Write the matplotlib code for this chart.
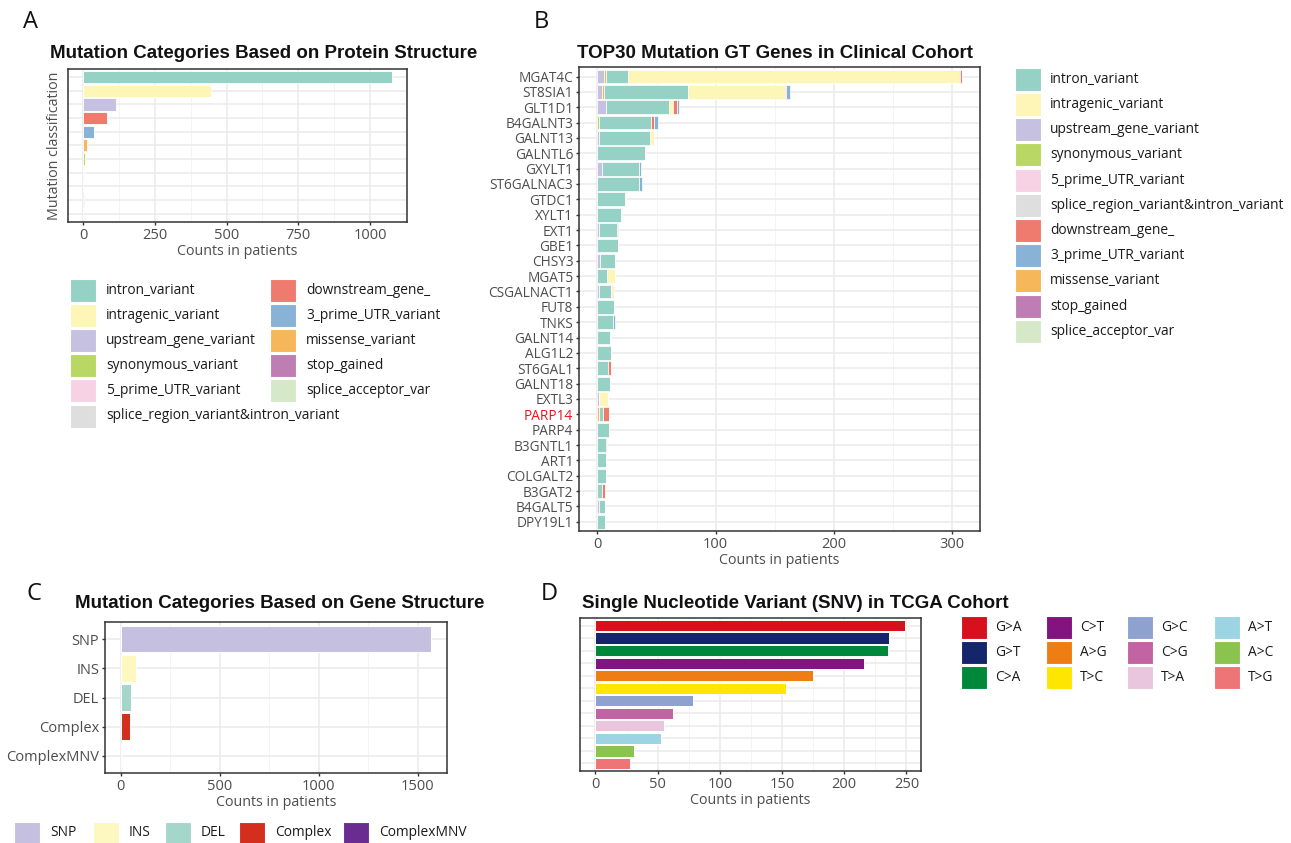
import matplotlib
matplotlib.use("Agg")
import matplotlib.pyplot as plt
from matplotlib.patches import Rectangle
from matplotlib.ticker import MultipleLocator
import numpy as np

W, H = 1291, 843
plt.rcParams['font.family'] = ['Open Sans', 'DejaVu Sans']

# ---------------- data ----------------
# Panel A
a_categories = ["intron_variant", "intragenic_variant", "upstream_gene_variant",
                "downstream_gene_", "3_prime_UTR_variant", "missense_variant",
                "synonymous_variant", "5_prime_UTR_variant",
                "splice_region_variant&intron_variant", "stop_gained",
                "splice_acceptor_var"]
a_counts = [1075, 444, 113, 84, 38, 12, 7, 2, 1, 3, 1]

# legend order (shared by A and B)
legend_labels = ["intron_variant", "intragenic_variant", "upstream_gene_variant",
                 "synonymous_variant", "5_prime_UTR_variant",
                 "splice_region_variant&intron_variant", "downstream_gene_",
                 "3_prime_UTR_variant", "missense_variant", "stop_gained",
                 "splice_acceptor_var"]
legend_colors = ["#96D1C6", "#FDF6B6", "#C6C1E0", "#B9D863", "#F7D2E5",
                 "#DEDEDE", "#EE7B6E", "#88B2D6", "#F6B75B", "#BF7EB3", "#D5E9C9"]

# Panel B
genes = ["MGAT4C", "ST8SIA1", "GLT1D1", "B4GALNT3", "GALNT13", "GALNTL6", "GXYLT1",
         "ST6GALNAC3", "GTDC1", "XYLT1", "EXT1", "GBE1", "CHSY3", "MGAT5",
         "CSGALNACT1", "FUT8", "TNKS", "GALNT14", "ALG1L2", "ST6GAL1", "GALNT18",
         "EXTL3", "PARP14", "PARP4", "B3GNTL1", "ART1", "COLGALT2", "B3GAT2",
         "B4GALT5", "DPY19L1"]
b_upstream   = [5.4, 4, 7, 0, 1.5, 0, 4, 0, 0, 0, 1.4, 0, 2.5, 0, 1.4, 0, 0, 0, 0, 0,
                0, 1.4, 0, 0, 0, 0, 0, 0, 1.4, 0]
b_synonymous = [0, 0, 0, 1.5, 0, 0, 0, 0, 0, 0, 0, 0, 0, 0, 0, 0, 0, 0, 0, 0,
                0, 0, 0, 0, 0, 0, 0, 0, 0, 0]
b_missense   = [1.5, 1.5, 0, 0, 0, 0, 0, 0, 0, 0, 0, 0, 0, 0, 0, 0, 0, 0, 0, 0,
                0, 0, 1.6, 0, 0, 0, 0, 0, 0, 0]
b_intron     = [19, 71, 54, 43.5, 43, 40, 31, 35.5, 23, 20, 15, 17.2, 12.7, 8.2, 10.4,
                14.4, 13.5, 11, 11.3, 9.3, 10.4, 0, 3, 9.6, 7.3, 7.3, 7.3, 4.2, 5, 6.5]
b_intragenic = [281, 82, 3, 0.5, 3.5, 0.6, 0, 0, 1, 0, 0, 0, 0, 7, 1.1, 0, 0, 0.7, 0, 0,
                0, 7.9, 0, 0, 0, 0, 0, 0, 0, 0]
b_downstream = [2, 1.5, 3, 2.5, 0, 0, 0, 0, 0, 0, 0, 0, 0, 0, 1.4, 0, 0, 0, 0, 2,
                0, 0, 5, 0, 1.1, 0, 0, 2.2, 0, 0]
b_utr3       = [0, 3, 2, 3, 0, 0, 2, 2, 0, 0, 1, 0, 0, 0, 0, 0, 1, 0, 0, 0,
                0, 0, 0, 0, 0, 0, 0, 0, 0, 0]
highlight_gene = "PARP14"

# Panel C
c_categories = ["SNP", "INS", "DEL", "Complex", "ComplexMNV"]
c_counts = [1570, 76, 55, 47, 5]
c_colors = ["#C5C0DF", "#FDF7C0", "#A5D6CA", "#D42E1F", "#6A2C91"]

# Panel D
d_categories = ["G>A", "G>T", "C>A", "C>T", "A>G", "T>C", "G>C", "C>G",
                "T>A", "A>T", "A>C", "T>G"]
d_counts = [249, 236, 235, 216, 175, 153, 78.7, 62, 55, 52.7, 30.8, 27.8]
d_colors = ["#D7101E", "#15256B", "#00883A", "#83137F", "#EE7E13", "#FFE600",
            "#8FA1CF", "#C264A3", "#E9C5DE", "#9CD4E4", "#8BC34F", "#EE7575"]

# ---------------- helpers ----------------
fig = plt.figure(figsize=(W / 100, H / 100), dpi=100)
fig.patch.set_facecolor("white")

def axes_px(x0, y0, x1, y1):
    return fig.add_axes([x0 / W, 1 - y1 / H, (x1 - x0) / W, (y1 - y0) / H])

def ftext(x, y, s, **kw):
    fig.text(x / W, 1 - y / H, s, **kw)

def style(ax, major, minor):
    ax.set_facecolor("white")
    for sp in ax.spines.values():
        sp.set_color("#333333")
        sp.set_linewidth(1.1)
    ax.xaxis.set_major_locator(MultipleLocator(major))
    ax.xaxis.set_minor_locator(MultipleLocator(minor))
    ax.grid(True, which="major", color="#EBEBEB", lw=1.1, zorder=0)
    ax.grid(True, which="minor", axis="x", color="#F3F3F3", lw=0.6, zorder=0)
    ax.set_axisbelow(True)
    ax.tick_params(axis="both", which="major", colors="#333333", labelcolor="#4D4D4D",
                   labelsize=10.5, length=2.5, width=1, pad=1.8)
    ax.tick_params(axis="x", which="minor", length=0)

def legend_block(labels, colors, x0, y0, col_dx, row_dy, nrows, bw, bh, tdx, fs=9.9):
    for i, (lab, col) in enumerate(zip(labels, colors)):
        c, r = divmod(i, nrows)
        x = x0 + c * col_dx
        y = y0 + r * row_dy
        fig.add_artist(Rectangle((x / W, 1 - (y + bh / 2) / H), bw / W, bh / H,
                                 transform=fig.transFigure, facecolor=col,
                                 edgecolor="white", lw=0.8))
        ftext(x + tdx, y, lab, fontsize=fs, va="center", ha="left", color="#1A1A1A")

title_kw = dict(fontsize=13.5, fontweight="bold", family=["Liberation Sans", "DejaVu Sans"],
                ha="center", va="center", color="#111111")
lab_kw = dict(fontsize=10.3, color="#4D4D4D")

# ---------------- Panel A ----------------
axA = axes_px(67.7, 69, 407.3, 221.7)
na = len(a_categories)
ya = np.arange(na)[::-1] + 1
a_cols = [legend_colors[legend_labels.index(c)] for c in a_categories]
axA.barh(ya, a_counts, height=0.9, color=a_cols, edgecolor="white", lw=0.6, zorder=3)
axA.set_ylim(0.4, na + 0.6)
axA.set_xlim(-54, 1130)
style(axA, 250, 125)
axA.set_yticks(ya)
axA.set_yticklabels([])
axA.tick_params(axis="y", length=0)
axA.set_ylabel("Mutation classification", labelpad=2, **lab_kw)
axA.set_xlabel("Counts in patients", labelpad=1, **lab_kw)
ftext(264, 53, "Mutation Categories Based on Protein Structure", **title_kw)
ftext(23, 22, "A", fontsize=17, ha="left", va="center", color="#111111")
legend_block(legend_labels, legend_colors, 70, 290, 200, 25.2, 6, 26, 23, 36)

# ---------------- Panel B ----------------
axB = axes_px(579.3, 67.3, 980, 531)
nb = len(genes)
yb = np.arange(nb)[::-1] + 1
stack = [b_upstream, b_synonymous, b_missense, b_intron, b_intragenic, b_downstream, b_utr3]
stack_names = ["upstream_gene_variant", "synonymous_variant", "missense_variant",
               "intron_variant", "intragenic_variant", "downstream_gene_",
               "3_prime_UTR_variant"]
left = np.zeros(nb)
for vals, name in zip(stack, stack_names):
    v = np.array(vals, dtype=float)
    axB.barh(yb, v, left=left, height=0.9, color=legend_colors[legend_labels.index(name)],
             edgecolor="white", lw=0.5, zorder=3)
    left += v
axB.set_ylim(0.4, nb + 0.6)
axB.set_xlim(-15.4, 324)
style(axB, 100, 50)
axB.set_yticks(yb)
axB.set_yticklabels(genes, fontsize=9.8)
for t in axB.get_yticklabels():
    if t.get_text() == highlight_gene:
        t.set_color("#E8141B")
axB.set_xlabel("Counts in patients", labelpad=1, **lab_kw)
ftext(775, 53, "TOP30 Mutation GT Genes in Clinical Cohort", **title_kw)
ftext(534, 22, "B", fontsize=17, ha="left", va="center", color="#111111")
legend_block(legend_labels, legend_colors, 1015, 79.3, 0, 25.2, 11, 26, 23, 35)

# ---------------- Panel C ----------------
axC = axes_px(105, 622, 447, 773)
nc = len(c_categories)
yc = np.arange(nc)[::-1] + 1
axC.barh(yc, c_counts, height=0.9, color=c_colors, edgecolor="white", lw=0.7, zorder=3)
axC.set_ylim(0.4, nc + 0.6)
axC.set_xlim(-78.5, 1648.5)
style(axC, 500, 250)
axC.set_yticks(yc)
axC.set_yticklabels(c_categories)
axC.set_xlabel("Counts in patients", labelpad=1, **lab_kw)
ftext(280, 603, "Mutation Categories Based on Gene Structure", **title_kw)
ftext(27, 594, "C", fontsize=17, ha="left", va="center", color="#111111")
c_x = [14, 92.7, 165, 239, 343]
for x, lab, col in zip(c_x, c_categories, c_colors):
    fig.add_artist(Rectangle((x / W, 1 - (833 + 11.5) / H), 26 / W, 23 / H,
                             transform=fig.transFigure, facecolor=col,
                             edgecolor="white", lw=0.8))
    ftext(x + 36, 833, lab, fontsize=9.9, va="center", ha="left", color="#1A1A1A")

# ---------------- Panel D ----------------
axD = axes_px(580, 618, 920.7, 771)
nd = len(d_categories)
yd = np.arange(nd)[::-1] + 1
axD.barh(yd, d_counts, height=0.9, color=d_colors, edgecolor="white", lw=0.7, zorder=3)
axD.set_ylim(0.4, nd + 0.6)
axD.set_xlim(-12.45, 261.45)
style(axD, 50, 25)
axD.set_yticks(yd)
axD.set_yticklabels([])
axD.tick_params(axis="y", length=0)
axD.set_xlabel("Counts in patients", labelpad=1, **lab_kw)
ftext(795, 604, "Single Nucleotide Variant (SNV) in TCGA Cohort", **title_kw)
ftext(541, 594, "D", fontsize=17, ha="left", va="center", color="#111111")
d_colx = [960.7, 1046, 1126.7, 1214]
for i, (lab, col) in enumerate(zip(d_categories, d_colors)):
    c, r = divmod(i, 3)
    x = d_colx[c]
    y = 627.7 + r * 25
    fig.add_artist(Rectangle((x / W, 1 - (y + 11.5) / H), 26 / W, 23 / H,
                             transform=fig.transFigure, facecolor=col,
                             edgecolor="white", lw=0.8))
    ftext(x + 34, y, lab, fontsize=9.9, va="center", ha="left", color="#1A1A1A")

fig.savefig("out.png", dpi=100, facecolor="white")
